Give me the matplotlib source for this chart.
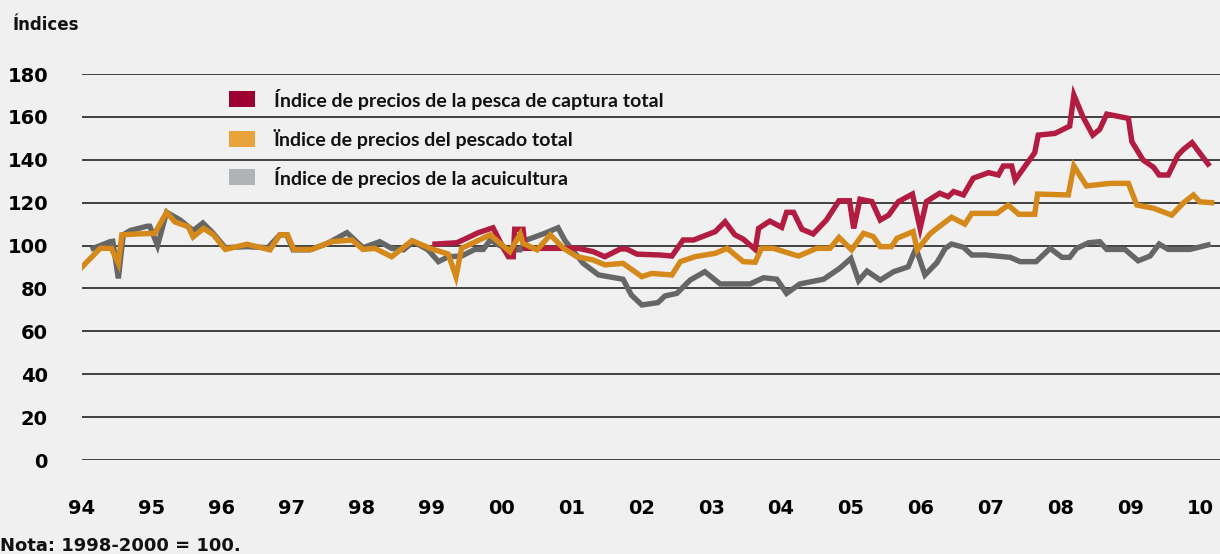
import matplotlib
matplotlib.use("Agg")
import matplotlib.pyplot as plt
from matplotlib.patches import Rectangle

# ---- data (decimal years, index values) ----
captura_t = [1999.05, 1999.36, 1999.43, 1999.67, 1999.88, 2000.03, 2000.10, 2000.17, 2000.19, 2000.31,
             2000.34, 2000.84, 2001.10, 2001.31, 2001.48, 2001.70, 2001.79, 2001.94, 2002.27, 2002.44,
             2002.60, 2002.75, 2003.06, 2003.20, 2003.34, 2003.46, 2003.63, 2003.68, 2003.84, 2004.01,
             2004.08, 2004.18, 2004.30, 2004.46, 2004.65, 2004.83, 2004.98, 2005.04, 2005.13, 2005.30,
             2005.42, 2005.54, 2005.68, 2005.88, 2005.99, 2006.08, 2006.27, 2006.39, 2006.47, 2006.61,
             2006.75, 2006.97, 2007.11, 2007.18, 2007.30, 2007.35, 2007.63, 2007.68, 2007.92, 2008.13,
             2008.19, 2008.32, 2008.46, 2008.56, 2008.66, 2008.97, 2009.02, 2009.18, 2009.33, 2009.41,
             2009.54, 2009.68, 2009.76, 2009.88, 2010.11]
captura_v = [100.7, 101.3, 102.3, 106.0, 108.3, 98.7, 94.8, 94.8, 107.6, 107.6,
             98.7, 98.7, 98.7, 97.2, 94.8, 98.4, 98.4, 96.0, 95.6, 95.1,
             102.6, 102.6, 106.5, 111.1, 105.0, 103.0, 98.2, 108.0, 111.4, 108.5,
             115.5, 115.5, 107.6, 105.4, 111.9, 120.9, 120.9, 108.0, 121.6, 120.5,
             111.9, 114.2, 120.5, 124.0, 108.0, 120.5, 124.4, 122.8, 125.2, 123.6,
             131.4, 134.0, 132.9, 137.1, 137.1, 130.6, 143.3, 151.5, 152.3, 155.7,
             170.2, 160.0, 151.5, 154.2, 161.3, 159.3, 148.4, 139.9, 136.5, 132.9,
             132.9, 142.2, 144.9, 148.0, 138.0]

pescado_t = [1994.00, 1994.26, 1994.42, 1994.52, 1994.57, 1994.78, 1995.04, 1995.21, 1995.33, 1995.52,
             1995.59, 1995.74, 1995.88, 1996.05, 1996.36, 1996.69, 1996.83, 1996.94, 1997.03, 1997.29,
             1997.57, 1997.86, 1998.02, 1998.19, 1998.43, 1998.72, 1998.98, 1999.24, 1999.35, 1999.43,
             1999.84, 2000.12, 2000.27, 2000.31, 2000.51, 2000.70, 2000.89, 2001.08, 2001.31, 2001.48,
             2001.74, 2002.01, 2002.15, 2002.44, 2002.56, 2002.77, 2003.06, 2003.23, 2003.46, 2003.63,
             2003.72, 2003.89, 2004.25, 2004.51, 2004.70, 2004.83, 2005.01, 2005.18, 2005.32, 2005.42,
             2005.58, 2005.66, 2005.89, 2005.95, 2006.13, 2006.23, 2006.44, 2006.63, 2006.73, 2007.09,
             2007.25, 2007.40, 2007.63, 2007.67, 2008.11, 2008.19, 2008.37, 2008.71, 2008.97, 2009.09,
             2009.33, 2009.59, 2009.76, 2009.90, 2009.99, 2010.16]
pescado_v = [90.0, 98.7, 98.7, 91.7, 105.0, 105.4, 105.7, 115.5, 111.0, 108.8,
             104.0, 108.0, 105.0, 98.2, 100.6, 98.0, 105.0, 105.0, 98.2, 98.2,
             101.8, 102.6, 98.2, 98.7, 94.8, 102.3, 98.7, 96.0, 85.5, 98.7,
             105.0, 97.2, 105.4, 101.0, 98.0, 105.0, 98.7, 94.8, 93.3, 91.0,
             91.7, 85.5, 87.0, 86.3, 92.5, 94.8, 96.4, 98.7, 92.5, 92.2,
             98.7, 98.7, 95.1, 98.7, 98.7, 103.8, 98.0, 105.7, 104.2, 99.5,
             99.5, 103.4, 106.5, 98.0, 105.4, 108.0, 113.2, 110.0, 115.0, 115.0,
             118.9, 114.6, 114.6, 124.0, 123.6, 137.1, 127.8, 129.0, 129.0, 118.9,
             117.4, 114.2, 120.0, 123.6, 120.4, 120.0]

acuicultura_t = [1994.16, 1994.40, 1994.44, 1994.52, 1994.59, 1994.69, 1994.93, 1994.97, 1995.08, 1995.21,
                 1995.40, 1995.59, 1995.73, 1995.87, 1996.05, 1996.36, 1996.66, 1996.83, 1996.93, 1997.02,
                 1997.26, 1997.51, 1997.79, 1998.02, 1998.26, 1998.43, 1998.60, 1998.74, 1998.95, 1999.10,
                 1999.24, 1999.43, 1999.62, 1999.74, 1999.84, 1999.96, 2000.12, 2000.27, 2000.36, 2000.62,
                 2000.81, 2000.91, 2001.17, 2001.39, 2001.74, 2001.86, 2002.01, 2002.24, 2002.34, 2002.51,
                 2002.70, 2002.91, 2003.13, 2003.56, 2003.75, 2003.94, 2004.08, 2004.27, 2004.61, 2004.84,
                 2005.00, 2005.11, 2005.23, 2005.42, 2005.61, 2005.82, 2005.93, 2006.06, 2006.23, 2006.35,
                 2006.44, 2006.61, 2006.73, 2006.92, 2007.28, 2007.42, 2007.65, 2007.85, 2008.02, 2008.13,
                 2008.23, 2008.40, 2008.56, 2008.66, 2008.92, 2009.11, 2009.28, 2009.41, 2009.54, 2009.85,
                 2010.11]
acuicultura_v = [98.7, 101.8, 102.0, 84.7, 105.0, 107.0, 109.0, 109.0, 100.0, 115.5,
                 112.0, 107.0, 110.5, 106.0, 99.0, 99.5, 99.0, 105.0, 105.0, 98.0,
                 98.0, 101.0, 106.0, 99.0, 101.8, 98.7, 98.0, 101.8, 98.0, 92.5,
                 94.8, 95.1, 98.2, 98.2, 102.6, 100.3, 98.0, 98.0, 102.6, 105.7,
                 108.3, 102.3, 91.7, 86.3, 84.3, 76.9, 72.3, 73.4, 76.5, 77.7,
                 83.9, 87.8, 82.1, 82.1, 85.0, 84.3, 77.7, 82.1, 84.3, 89.4,
                 94.0, 83.6, 88.1, 83.9, 87.8, 90.1, 98.7, 86.3, 92.0, 98.7,
                 100.7, 99.2, 95.6, 95.6, 94.5, 92.5, 92.5, 98.7, 94.5, 94.5,
                 98.7, 101.3, 101.8, 98.2, 98.2, 92.9, 95.1, 100.7, 98.2, 98.2,
                 100.3]

year_ticks = list(range(1994, 2011))
year_labels = ["94", "95", "96", "97", "98", "99", "00", "01", "02", "03",
               "04", "05", "06", "07", "08", "09", "10"]
y_ticks = [0, 20, 40, 60, 80, 100, 120, 140, 160, 180]

legend_labels = ["Índice de precios de la pesca de captura total",
                 "Ïndice de precios del pescado total",
                 "Índice de precios de la acuicultura"]

# ---- style ----
BG = "#f0f0f0"
RED_LINE, RED_BOX = "#b21c40", "#9b0030"
ORA_LINE, ORA_BOX = "#d4891a", "#e8a33a"
GRY_LINE, GRY_BOX = "#666666", "#b0b3b6"

W, H = 1220, 554
fig = plt.figure(figsize=(W / 100, H / 100), dpi=100, facecolor=BG)
ax = fig.add_axes([82 / W, 1 - 460 / H, 1138 / W, 386 / H], facecolor=BG)

for v in y_ticks:
    ax.axhline(v, color="#333333", lw=1.3, zorder=1)

lw = 3.9
ax.plot(acuicultura_t, acuicultura_v, color=GRY_LINE, lw=lw, zorder=3, solid_joinstyle="miter")
ax.plot(captura_t, captura_v, color=RED_LINE, lw=lw, zorder=4, solid_joinstyle="miter")
ax.plot(pescado_t, pescado_v, color=ORA_LINE, lw=lw, zorder=5, solid_joinstyle="miter")

ax.set_xlim(1994.0, 1994.0 + 1138 / 69.9)
ax.set_ylim(0, 180)
for s in ax.spines.values():
    s.set_visible(False)

tick_font = dict(family="DejaVu Sans", weight="bold", size=14)
ax.set_yticks(y_ticks)
ax.set_yticklabels([str(v) for v in y_ticks], **tick_font)
ax.set_xticks(year_ticks)
ax.set_xticklabels(year_labels, **tick_font)
ax.tick_params(axis="y", length=0, pad=24.5)
ax.tick_params(axis="x", length=0, pad=28)

# legend
boxes = [RED_BOX, ORA_BOX, GRY_BOX]
ys = [99, 139, 177]
for c, lab, yc in zip(boxes, legend_labels, ys):
    fig.add_artist(Rectangle((229 / W, 1 - (yc + 8) / H), 26 / W, 16 / H,
                             transform=fig.transFigure, facecolor=c, edgecolor="none"))
    fig.text(274 / W, 1 - yc / H, lab, family="Lato", weight="bold", size=14,
             va="center", ha="left", color="#111111")

fig.text(12 / W, 1 - 25 / H, "Índices", family="DejaVu Sans", weight="bold", size=12,
         va="center", ha="left", color="#111111")
fig.text(0 / W, 1 - 546 / H, "Nota: 1998-2000 = 100.", family="DejaVu Sans", weight="bold",
         size=13, va="center", ha="left", color="#111111")

fig.savefig("out.png", dpi=100, facecolor=BG)
